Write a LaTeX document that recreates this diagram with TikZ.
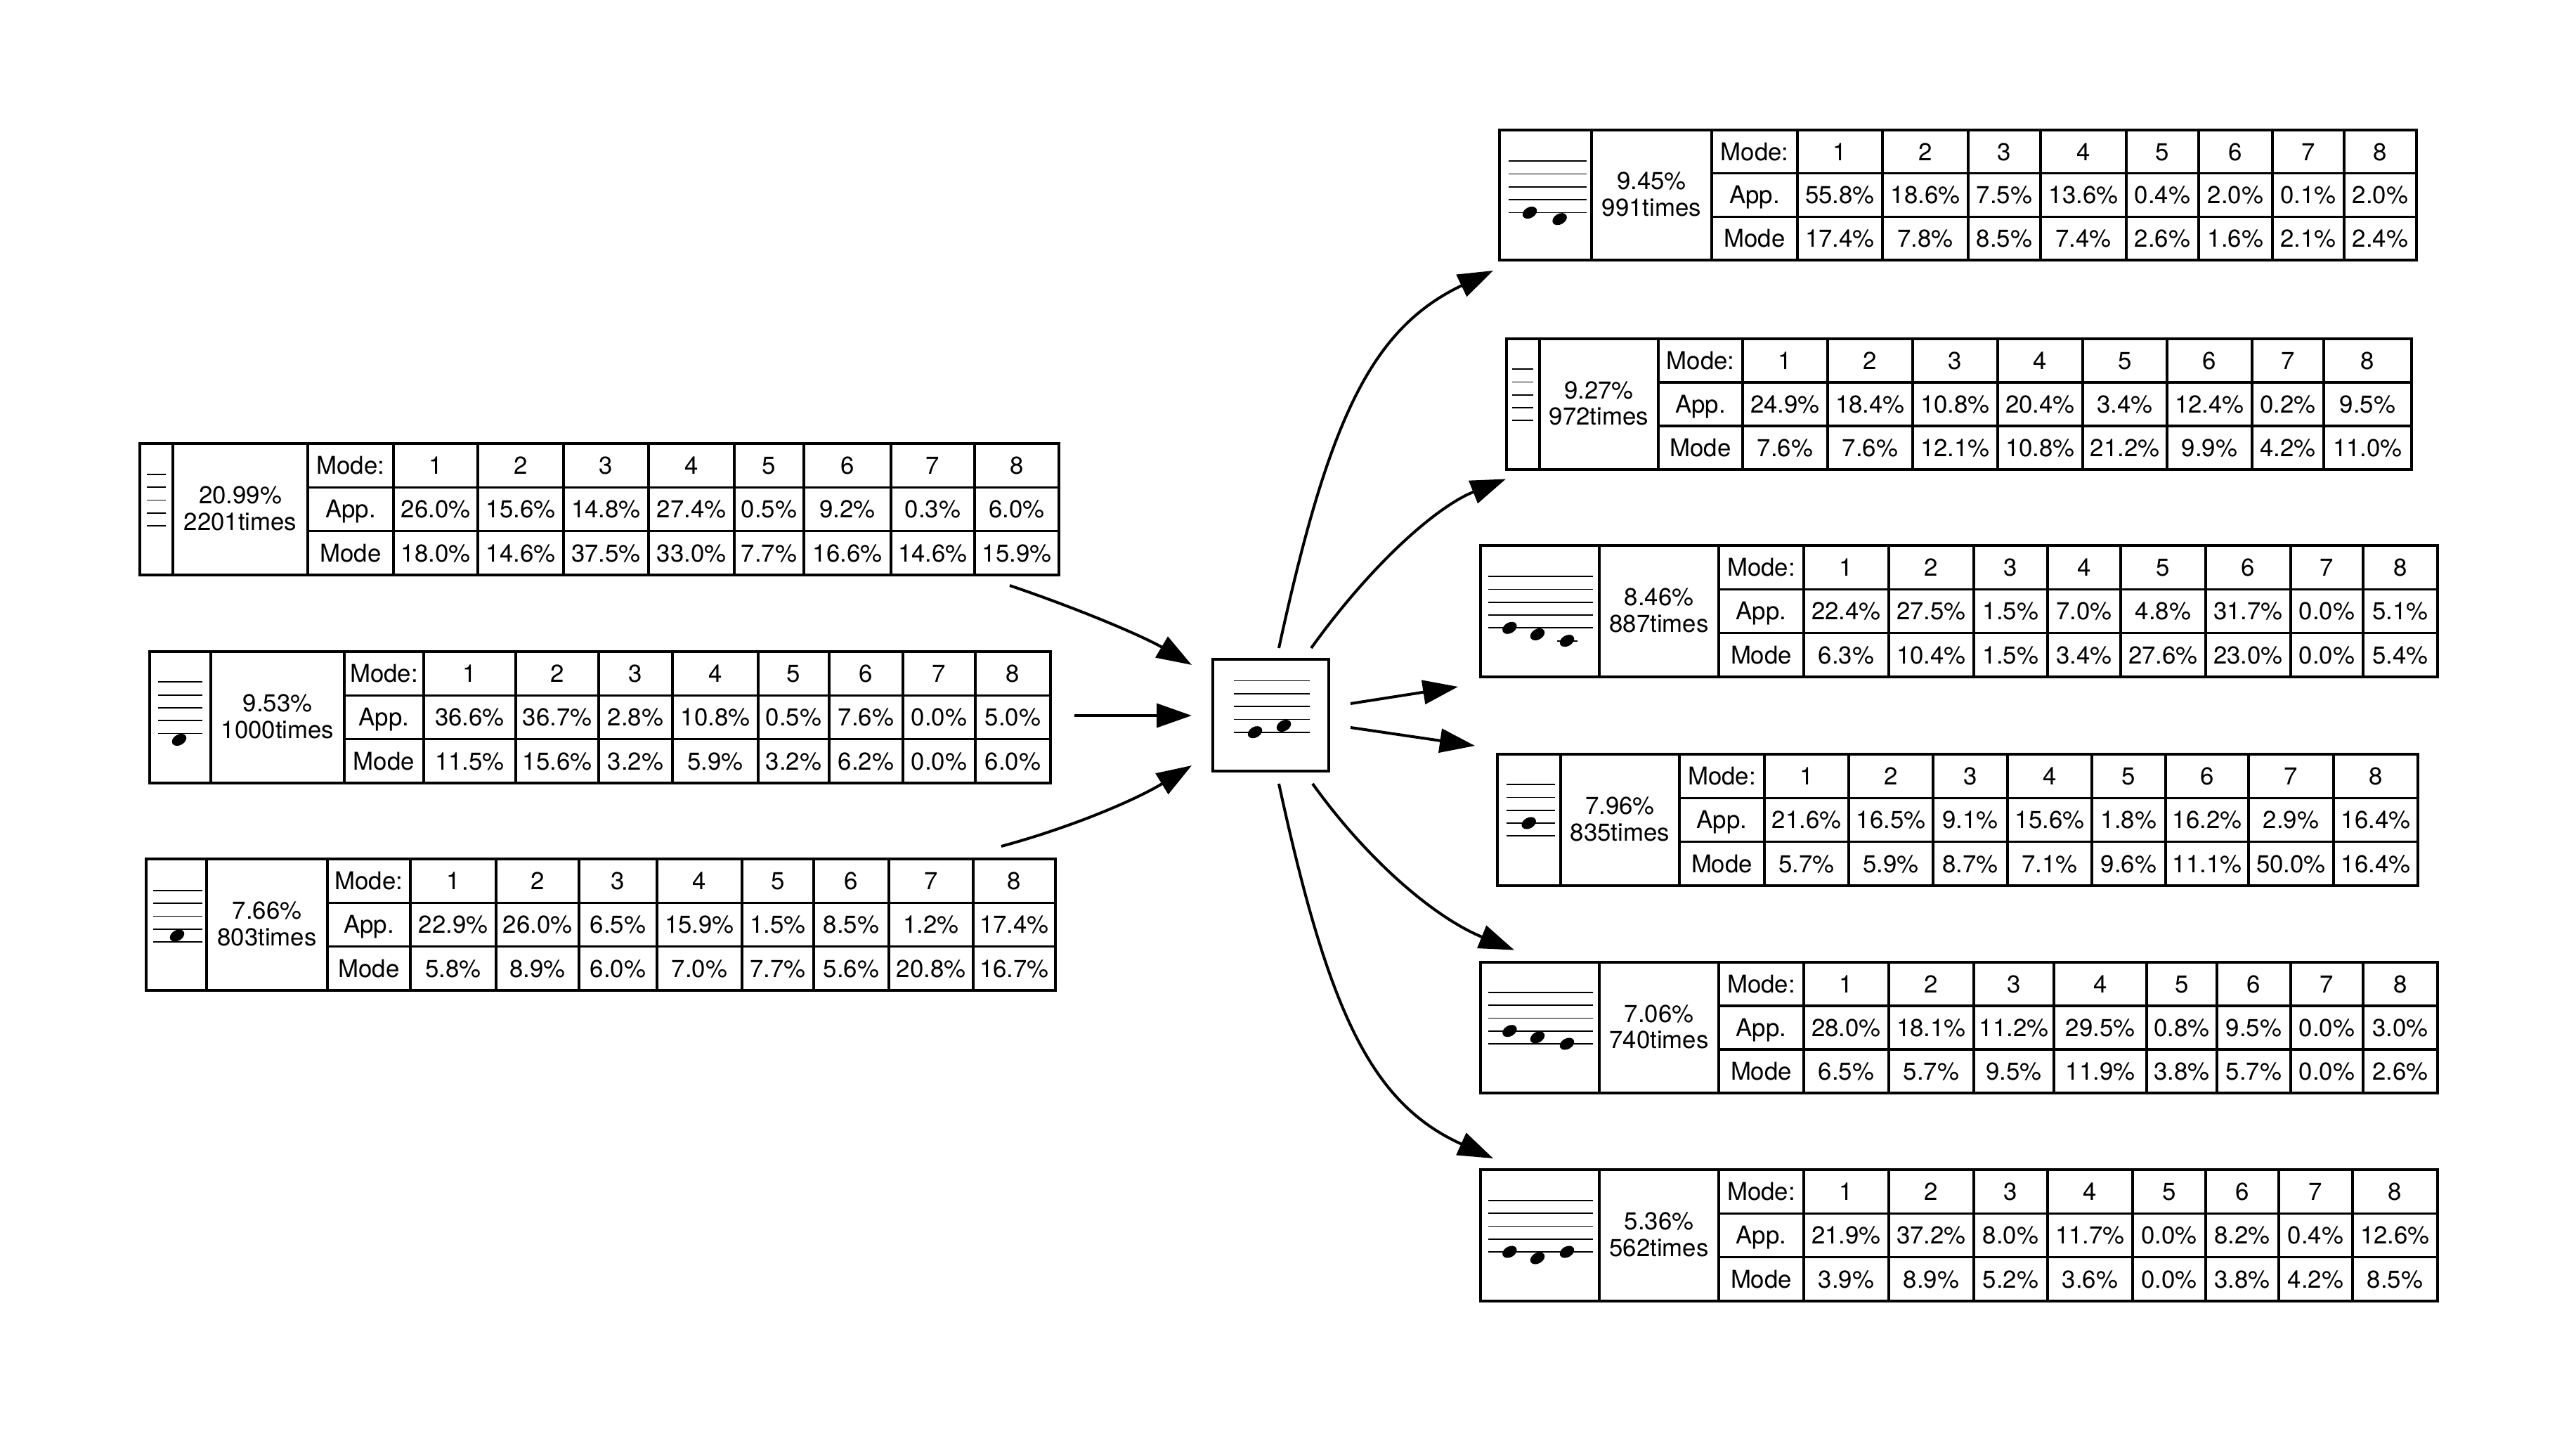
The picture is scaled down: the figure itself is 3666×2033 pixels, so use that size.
\documentclass[tikz,border=0pt]{standalone}
\usepackage{fontspec}
\setmainfont{TeX Gyre Heros}
\usetikzlibrary{arrows.meta}

\tikzset{
  txt/.style={font=\fontsize{8.7pt}{9.4pt}\selectfont},
  cell/.style={txt, inner sep=0pt, text height=6.2pt, text depth=0pt},
  countlabel/.style={txt, inner sep=0pt, align=center, yshift=0.3pt},
  rule/.style={line width=0.85pt},
  staffline/.style={line width=0.45pt},
  flow/.style={line width=1pt, -{Triangle[length=12.5pt,width=8.5pt]}},
}

% five staff lines from x #1 to x #2, bottom line at y #3
\newcommand\staff[3]{%
  \foreach \s in {0,...,4}{\draw[staffline] (#1,{#3-18.3*\s}) -- (#2,{#3-18.3*\s});}}
% filled, tilted note head centred at (#1,#2)
\newcommand\notehead[2]{%
  \fill[shift={(#1,#2)}, rotate=30] (0,0) ellipse [x radius=2.75pt, y radius=1.9pt];}

% #1 name, #2 left edge, #3 icon|count divider, #4 count|header divider,
% #5 header|data divider, #6 top, #7 bottom, #8 count text,
% #9 data columns as right-edge/App./Mode
\newcommand\mtable[9]{%
  \pgfmathsetmacro\ra{#6+(#7-#6)/3}%
  \pgfmathsetmacro\rb{#6+2*(#7-#6)/3}%
  \pgfmathsetmacro\ca{#6+(#7-#6)/6}%
  \pgfmathsetmacro\cb{#6+(#7-#6)/2}%
  \pgfmathsetmacro\cc{#6+5*(#7-#6)/6}%
  \draw[rule] (#2,#6) rectangle (#3,#7);
  \draw[rule] (#3,#6) rectangle (#4,#7);
  \draw[rule] (#4,#6) rectangle (#5,#7) (#4,\ra) -- (#5,\ra) (#4,\rb) -- (#5,\rb);
  \node[countlabel] (#1-count) at ({(#3+#4)/2},\cb) {#8};
  \node[cell] (#1-hdr) at ({(#4+#5)/2},\ca) {Mode:};
  \node[cell] (#1-app) at ({(#4+#5)/2},\cb) {App.};
  \node[cell] (#1-mode) at ({(#4+#5)/2},\cc) {Mode};
  \foreach \r/\a/\m [count=\k, remember=\r as \l (initially #5)] in {#9}{
    \draw[rule] (\l,#6) rectangle (\r,#7) (\l,\ra) -- (\r,\ra) (\l,\rb) -- (\r,\rb);
    \node[cell] (#1-h\k) at ({(\l+\r)/2},\ca) {\k};
    \node[cell] (#1-a\k) at ({(\l+\r)/2},\cb) {\a};
    \node[cell] (#1-m\k) at ({(\l+\r)/2},\cc) {\m};
  }%
}

\begin{document}
\begin{tikzpicture}[x=0.25pt, y=-0.25pt]
\useasboundingbox[fill=white] (0,0) rectangle (3666,2033);

% ---------- incoming patterns ----------
\mtable{tl1}{199}{246}{438}{560}{631}{818}{20.99\%\\2201times}
  {680/26.0\%/18.0\%, 802/15.6\%/14.6\%, 923/14.8\%/37.5\%, 1045/27.4\%/33.0\%,
   1144/0.5\%/7.7\%, 1268/9.2\%/16.6\%, 1387/0.3\%/14.6\%, 1507/6.0\%/15.9\%}
\staff{209}{236}{748}

\mtable{tl2}{213}{300}{490}{603}{927}{1114}{9.53\%\\1000times}
  {734/36.6\%/11.5\%, 852/36.7\%/15.6\%, 957/2.8\%/3.2\%, 1079/10.8\%/5.9\%,
   1180/0.5\%/3.2\%, 1285/7.6\%/6.2\%, 1388/0.0\%/0.0\%, 1495/5.0\%/6.0\%}
\staff{225}{288}{1043.5}
\notehead{255}{1052.5}

\mtable{tl3}{208}{294}{466}{584}{1222}{1409}{7.66\%\\803times}
  {706/22.9\%/5.8\%, 824/26.0\%/8.9\%, 935/6.5\%/6.0\%, 1056/15.9\%/7.0\%,
   1158/1.5\%/7.7\%, 1265/8.5\%/5.6\%, 1385/1.2\%/20.8\%, 1502/17.4\%/16.7\%}
\staff{218}{288}{1340}
\notehead{252}{1331}

% ---------- central pattern ----------
\node[draw, line width=0.85pt, minimum width=41.25pt, minimum height=39.75pt, inner sep=0pt]
  (hub) at (1808.5,1017.5) {};
\staff{1756}{1864}{1041.7}
\notehead{1786}{1041.7}
\notehead{1827}{1032.5}

% ---------- outgoing patterns ----------
\mtable{tr1}{2134}{2265}{2436}{2558}{185}{370}{9.45\%\\991times}
  {2679/55.8\%/17.4\%, 2801/18.6\%/7.8\%, 2904/7.5\%/8.5\%, 3026/13.6\%/7.4\%,
   3129/0.4\%/2.6\%, 3234/2.0\%/1.6\%, 3336/0.1\%/2.1\%, 3439/2.0\%/2.4\%}
\staff{2147}{2258}{302.5}
\notehead{2177}{302.5}
\notehead{2219.6}{311.7}

\mtable{tr2}{2144}{2191}{2360}{2480}{482}{668}{9.27\%\\972times}
  {2601/24.9\%/7.6\%, 2722/18.4\%/7.6\%, 2843/10.8\%/12.1\%, 2964/20.4\%/10.8\%,
   3084/3.4\%/21.2\%, 3205/12.4\%/9.9\%, 3307/0.2\%/4.2\%, 3432/9.5\%/11.0\%}
\staff{2152}{2182}{598.3}

\mtable{tr3}{2107}{2276}{2446}{2567}{776}{963}{8.46\%\\887times}
  {2688/22.4\%/6.3\%, 2809/27.5\%/10.4\%, 2914/1.5\%/1.5\%, 3018/7.0\%/3.4\%,
   3139/4.8\%/27.6\%, 3260/31.7\%/23.0\%, 3363/0.0\%/0.0\%, 3469/5.1\%/5.4\%}
\staff{2118}{2267}{893.3}
\draw[staffline] (2216,911.6) -- (2245,911.6);
\notehead{2148.4}{893.3}
\notehead{2188}{902.5}
\notehead{2230}{911.6}

\mtable{tr4}{2131}{2221}{2390}{2511}{1073}{1260}{7.96\%\\835times}
  {2631/21.6\%/5.7\%, 2751/16.5\%/5.9\%, 2857/9.1\%/8.7\%, 2977/15.6\%/7.1\%,
   3082/1.8\%/9.6\%, 3200/16.2\%/11.1\%, 3321/2.9\%/50.0\%, 3441/16.4\%/16.4\%}
\staff{2144}{2213}{1189.3}
\notehead{2175.7}{1171}

\mtable{tr5}{2107}{2276}{2446}{2567}{1369}{1555}{7.06\%\\740times}
  {2688/28.0\%/6.5\%, 2809/18.1\%/5.7\%, 2923/11.2\%/9.5\%, 3055/29.5\%/11.9\%,
   3155/0.8\%/3.8\%, 3260/9.5\%/5.7\%, 3363/0.0\%/0.0\%, 3469/3.0\%/2.6\%}
\staff{2118}{2267}{1485}
\notehead{2148.4}{1466.7}
\notehead{2188}{1475.8}
\notehead{2230}{1485}

\mtable{tr6}{2107}{2276}{2446}{2567}{1664}{1851}{5.36\%\\562times}
  {2688/21.9\%/3.9\%, 2809/37.2\%/8.9\%, 2914/8.0\%/5.2\%, 3035/11.7\%/3.6\%,
   3139/0.0\%/0.0\%, 3243/8.2\%/3.8\%, 3348/0.4\%/4.2\%, 3469/12.6\%/8.5\%}
\staff{2118}{2267}{1781}
\notehead{2148.4}{1781}
\notehead{2188}{1790}
\notehead{2230}{1781}

% ---------- connector ends ----------
\coordinate (a1s) at (1437,833);   \coordinate (a1e) at (1696,946);
\coordinate (a2s) at (1529,1018);  \coordinate (a2e) at (1696,1018);
\coordinate (a3s) at (1425,1204);  \coordinate (a3e) at (1696,1089);
\coordinate (b1s) at (1820,922);   \coordinate (b1e) at (2125,385);
\coordinate (b2s) at (1866,922);   \coordinate (b2e) at (2143,681.5);
\coordinate (b3s) at (1922,1001);  \coordinate (b3e) at (2075,977);
\coordinate (b4s) at (1922,1035);  \coordinate (b4e) at (2099,1061);
\coordinate (b5s) at (1868,1115);  \coordinate (b5e) at (2155,1351.6);
\coordinate (b6s) at (1820,1115);  \coordinate (b6e) at (2125,1648);

% ---------- connectors ----------
\draw[flow] (a1s) .. controls (1546,870) and (1632,908) .. (a1e);
\draw[flow] (a2s) -- (a2e);
\draw[flow] (a3s) .. controls (1528,1176) and (1618,1137) .. (a3e);
\draw[flow] (b1s) .. controls (1890,600) and (1950,468) .. (b1e);
\draw[flow] (b2s) .. controls (1953,801) and (2045,720.5) .. (b2e);
\draw[flow] (b3s) -- (b3e);
\draw[flow] (b4s) -- (b4e);
\draw[flow] (b5s) .. controls (1949,1228) and (2045,1307) .. (b5e);
\draw[flow] (b6s) .. controls (1890,1437) and (1950,1569) .. (b6e);
\end{tikzpicture}
\end{document}
